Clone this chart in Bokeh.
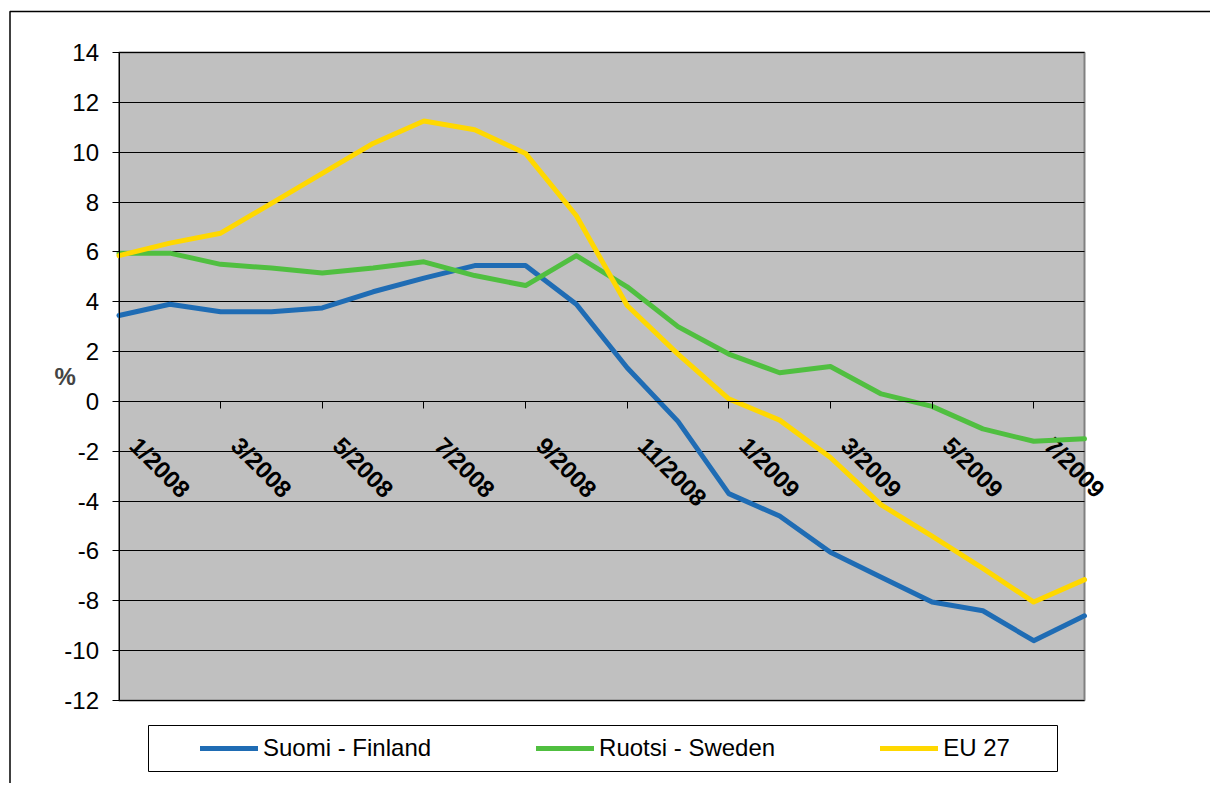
import math
from bokeh.plotting import figure
from bokeh.models import Range1d, LinearAxis, FixedTicker, Legend, LegendItem, BoxAnnotation, Grid
from bokeh.core.properties import value
from bokeh.embed import file_html
from bokeh.resources import INLINE

# ---- data ----
months = ["1/2008", "2/2008", "3/2008", "4/2008", "5/2008", "6/2008", "7/2008", "8/2008",
          "9/2008", "10/2008", "11/2008", "12/2008", "1/2009", "2/2009", "3/2009", "4/2009",
          "5/2009", "6/2009", "7/2009", "8/2009"]
finland = [3.45, 3.9, 3.6, 3.6, 3.75, 4.4, 4.95, 5.45, 5.45, 3.9, 1.35, -0.8,
           -3.7, -4.6, -6.05, -7.05, -8.05, -8.4, -9.6, -8.6]
sweden = [5.95, 5.95, 5.5, 5.35, 5.15, 5.35, 5.6, 5.05, 4.65, 5.85, 4.6, 3.0,
          1.9, 1.15, 1.4, 0.3, -0.2, -1.1, -1.6, -1.5]
eu27 = [5.85, 6.35, 6.75, 7.95, 9.15, 10.35, 11.25, 10.9, 9.95, 7.45, 3.85, 1.9,
        0.1, -0.75, -2.25, -4.15, -5.4, -6.7, -8.05, -7.15]
series_names = ["Suomi - Finland", "Ruotsi - Sweden", "EU 27"]
y_ticks = list(range(-12, 15, 2))
y_min, y_max = -12, 14
label_step = 2

# ---- layout / style ----
colors = ["#1F6CB4", "#50BF40", "#FFD800"]
FONT = "Liberation Sans"
W, H = 1210, 783
PX_LEFT, PX_RIGHT, PX_TOP, PX_BOTTOM = 118.5, 1084.0, 52.0, 700.0

n = len(months)
x = list(range(n))
x_per = (PX_RIGHT - PX_LEFT) / (n - 1)
y_per = (PX_BOTTOM - PX_TOP) / (y_max - y_min)
x_range = Range1d(0 - PX_LEFT / x_per, (n - 1) + (W - PX_RIGHT) / x_per)
y_range = Range1d(y_min - (H - PX_BOTTOM) / y_per, y_max + PX_TOP / y_per)

p = figure(width=W, height=H, output_backend="svg", toolbar_location=None,
           x_range=x_range, y_range=y_range,
           x_axis_location=None, y_axis_location=None,
           min_border_left=0, min_border_right=0, min_border_top=0, min_border_bottom=0)
p.background_fill_color = "white"
p.border_fill_color = "white"
p.outline_line_color = None
for g in p.grid:
    g.visible = False

# plot area (grey) spanning the axis limits
area = BoxAnnotation(left=0, right=n - 1, bottom=y_min, top=y_max,
                     fill_color="#C0C0C0", fill_alpha=1,
                     line_color="#808080", line_alpha=1, line_width=2, level="underlay")
p.add_layout(area)

grid = Grid(dimension=1, ticker=FixedTicker(ticks=y_ticks), bounds=(y_min, y_max),
            grid_line_color="black", grid_line_width=1)
if "cross_bounds" in Grid.properties():
    grid.cross_bounds = (0, n - 1)
p.add_layout(grid)

# value axis at the left edge of the plot area
ya = LinearAxis(fixed_location=0, bounds=(y_min, y_max), ticker=FixedTicker(ticks=y_ticks),
                major_label_overrides={t: str(t) for t in y_ticks},
                major_label_text_font=FONT, major_label_text_font_size="24px",
                major_label_text_color="black", major_label_standoff=13,
                major_tick_out=7, major_tick_in=0, minor_tick_out=0, minor_tick_in=0,
                axis_line_color="black", major_tick_line_color="black",
                axis_label="%", axis_label_orientation="horizontal",
                axis_label_text_font=FONT, axis_label_text_font_style="bold",
                axis_label_text_font_size="24px", axis_label_standoff=-14)
p.add_layout(ya, "left")

# category axis crossing at zero
lab_idx = x[::label_step]
xa = LinearAxis(fixed_location=0, bounds=(0, n - 1), ticker=FixedTicker(ticks=lab_idx),
                major_label_overrides={i: "" for i in lab_idx},
                major_tick_out=7, major_tick_in=0, minor_tick_out=0, minor_tick_in=0,
                axis_line_color="black", major_tick_line_color="black",
                major_label_text_font_size="1px")
p.add_layout(xa, "below")

# rotated category labels
p.text(x=lab_idx, y=[0] * len(lab_idx), text=[months[i] for i in lab_idx],
       angle=-math.pi / 4, x_offset=15, y_offset=40,
       text_align="left", text_baseline="alphabetic",
       text_font=value(FONT), text_font_style="bold", text_font_size="24px",
       text_color="black")

renderers = []
for vals, col in zip([finland, sweden, eu27], colors):
    r = p.line(x, vals, line_color=col, line_width=5, line_join="round", line_cap="round")
    renderers.append(r)

# outer frame and legend box (screen units, y from bottom)
frame_box = BoxAnnotation(left=9.5, right=W + 50, top=H - 11, bottom=-50,
                          left_units="screen", right_units="screen",
                          top_units="screen", bottom_units="screen",
                          fill_alpha=0, line_color="black", line_alpha=1, line_width=1.5)
p.add_layout(frame_box)
leg_box = BoxAnnotation(left=148, right=1057, top=H - 725, bottom=H - 771,
                        left_units="screen", right_units="screen",
                        top_units="screen", bottom_units="screen",
                        fill_color="white", fill_alpha=1,
                        line_color="black", line_alpha=1, line_width=1)
p.add_layout(leg_box)

legend = Legend(items=[LegendItem(label=nm, renderers=[r]) for nm, r in zip(series_names, renderers)],
                orientation="horizontal", location=(189, 10), margin=0, padding=11,
                spacing=105, glyph_width=58, glyph_height=20, label_standoff=5,
                label_text_font=FONT, label_text_font_size="24px", label_text_color="black",
                border_line_alpha=0, background_fill_alpha=0)
p.add_layout(legend, "center")

open("out.html", "w").write(file_html(p, INLINE))
